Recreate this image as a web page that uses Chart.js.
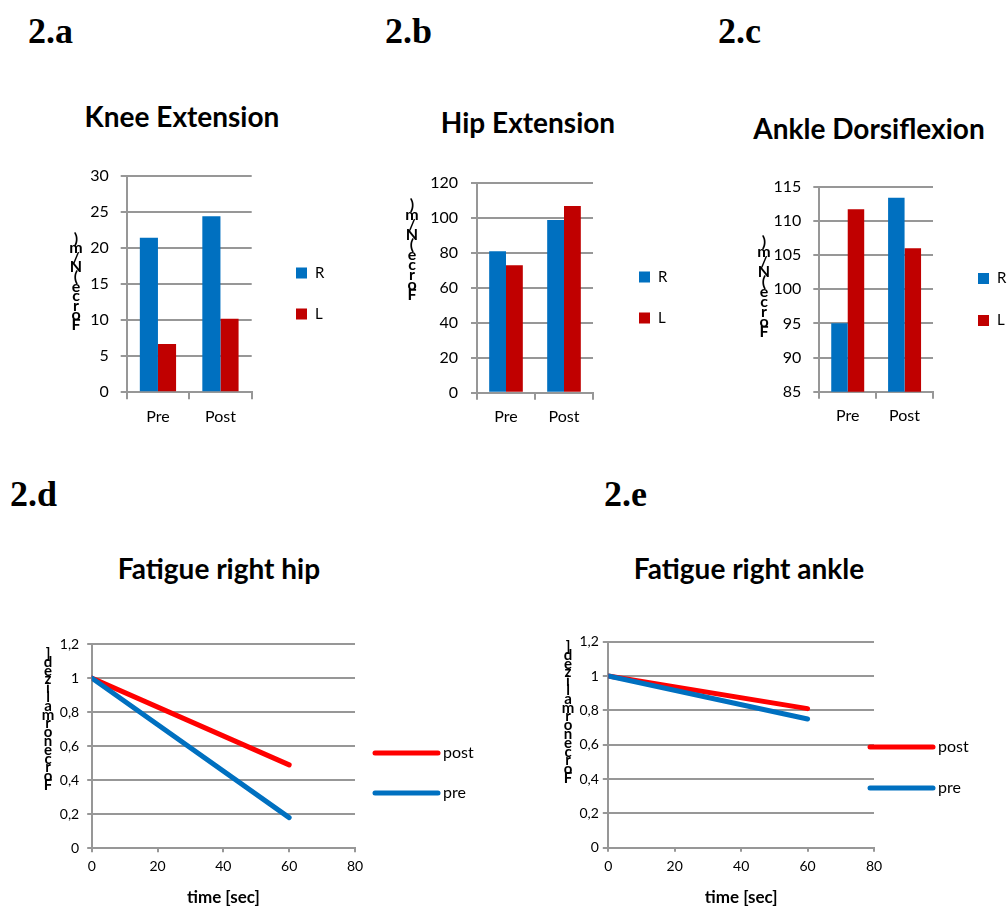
<!DOCTYPE html>
<html>
<head>
<meta charset="utf-8">
<script src="https://cdn.jsdelivr.net/npm/chart.js@4.4.1/dist/chart.umd.min.js"></script>
<style>
body { margin: 0; background: #fff; width: 1008px; height: 907px; position: relative; overflow: hidden; font-family: Lato, sans-serif; }
canvas { position: absolute; left: 0; top: 0; }
.lbl { position: absolute; font: bold 36px "Liberation Serif", serif; line-height: 36px; }
.ttl { position: absolute; width: 400px; text-align: center; font: bold 28px Lato, sans-serif; line-height: 1.2; }
</style>
</head>
<body>
<div class="lbl" style="left:28px;top:13px">2.a</div>
<div class="lbl" style="left:385px;top:13px">2.b</div>
<div class="lbl" style="left:718px;top:13px">2.c</div>
<div class="lbl" style="left:10px;top:476px">2.d</div>
<div class="lbl" style="left:604px;top:476px">2.e</div>

<div class="ttl" style="left:-18px;top:100px">Knee Extension</div>
<div class="ttl" style="left:328px;top:106px">Hip Extension</div>
<div class="ttl" style="left:669px;top:112px">Ankle Dorsiflexion</div>
<div class="ttl" style="left:19px;top:552px">Fatigue right hip</div>
<div class="ttl" style="left:549px;top:552px">Fatigue right ankle</div>

<canvas id="knee" width="1008" height="907"></canvas>
<canvas id="hip" width="1008" height="907"></canvas>
<canvas id="ankle" width="1008" height="907"></canvas>
<canvas id="fatHip" width="1008" height="907"></canvas>
<canvas id="fatAnkle" width="1008" height="907"></canvas>

<script>
const phases = ["Pre", "Post"];
const kneeR = [21.4, 24.4];
const kneeL = [6.7, 10.2];
const hipR = [81, 99];
const hipL = [73, 107];
const ankleR = [95, 113.4];
const ankleL = [111.7, 106];

const timeSec = [0, 60];
const hipPost = [1, 0.49];
const hipPre = [1, 0.18];
const anklePost = [1, 0.81];
const anklePre = [1, 0.75];

const GRID = '#979797';
const YW = 80; // room kept for the y tick labels
Chart.defaults.font.family = 'Lato';
Chart.defaults.color = '#000';

// legend drawn to the right of the plot
const sideLegend = {
    id: 'sideLegend',
    afterDraw(chart, args, o) {
        const ctx = chart.ctx;
        ctx.save();
        ctx.font = o.fontSize + 'px Lato';
        ctx.textBaseline = 'middle';
        chart.data.datasets.forEach((ds, i) => {
            const y = o.y + i * o.gap;
            if (o.line) {
                ctx.strokeStyle = ds.borderColor;
                ctx.lineWidth = 5;
                ctx.lineCap = 'round';
                ctx.beginPath();
                ctx.moveTo(o.x, y);
                ctx.lineTo(o.x + o.line, y);
                ctx.stroke();
                ctx.fillStyle = '#000';
                ctx.fillText(ds.label, o.x + o.line + 5, y);
            } else {
                ctx.fillStyle = ds.backgroundColor;
                ctx.fillRect(o.x, y - 5.5, 11, 11);
                ctx.fillStyle = '#000';
                ctx.fillText(ds.label, o.x + 19, y);
            }
        });
        ctx.restore();
    }
};

// y title with upright letters piled from bottom to top
const stackLabel = {
    id: 'stackLabel',
    afterDraw(chart, args, o) {
        const ctx = chart.ctx;
        ctx.save();
        ctx.font = 'bold ' + o.size + 'px Lato';
        ctx.fillStyle = '#000';
        ctx.textAlign = 'center';
        let y = o.bottom;
        for (const ch of o.text) {
            if (ch === ' ') continue;
            ctx.fillText(ch, o.x, y);
            y -= o.step;
        }
        ctx.restore();
    }
};

// box = [left, right, top, bottom] of the plot area on the page
function barChart(id, r, l, yMin, yMax, step, box, tick, leg, lab) {
    new Chart(document.getElementById(id), {
        type: 'bar',
        data: {
            labels: phases,
            datasets: [
                { label: 'R', data: r, backgroundColor: '#0070C0', categoryPercentage: 0.58, barPercentage: 1 },
                { label: 'L', data: l, backgroundColor: '#C00000', categoryPercentage: 0.58, barPercentage: 1 }
            ]
        },
        options: {
            responsive: false,
            animation: false,
            layout: { padding: { left: box[0] - YW, right: 1008 - box[1], top: box[2], bottom: 0 } },
            plugins: {
                legend: { display: false },
                tooltip: { enabled: false },
                sideLegend: leg,
                stackLabel: lab
            },
            scales: {
                x: {
                    grid: { drawOnChartArea: false, tickLength: 7, color: GRID, lineWidth: 2 },
                    border: { color: GRID, width: 2 },
                    ticks: { font: { size: 16 }, padding: 8 },
                    afterFit: s => { s.height = 907 - box[3]; }
                },
                y: {
                    min: yMin,
                    max: yMax,
                    ticks: { stepSize: step, font: { size: 16 }, padding: tick },
                    grid: { color: GRID, lineWidth: 2, tickLength: 6 },
                    border: { color: GRID, width: 2 },
                    afterFit: s => { s.width = YW; }
                }
            }
        },
        plugins: [sideLegend, stackLabel]
    });
}

function lineChart(id, post, pre, box, tl, tick, leg, lab) {
    new Chart(document.getElementById(id), {
        type: 'line',
        data: {
            datasets: [
                { label: 'post', data: timeSec.map((t, i) => ({ x: t, y: post[i] })), borderColor: '#FF0000', order: 1 },
                { label: 'pre', data: timeSec.map((t, i) => ({ x: t, y: pre[i] })), borderColor: '#0070C0', order: 0 }
            ]
        },
        options: {
            responsive: false,
            animation: false,
            layout: { padding: { left: box[0] - YW, right: 1008 - box[1], top: box[2], bottom: 0 } },
            elements: {
                line: { borderWidth: 5, borderCapStyle: 'round', tension: 0 },
                point: { radius: 0 }
            },
            plugins: {
                legend: { display: false },
                tooltip: { enabled: false },
                sideLegend: leg,
                stackLabel: lab
            },
            scales: {
                x: {
                    type: 'linear',
                    min: 0,
                    max: 80,
                    ticks: { stepSize: 20, font: { size: 14 }, padding: 6 },
                    grid: { drawOnChartArea: false, tickLength: 4, color: GRID, lineWidth: 2 },
                    border: { color: GRID, width: 2 },
                    title: { display: true, text: 'time [sec]', font: { size: 17, weight: 'bold', lineHeight: 1 }, padding: { top: 0, bottom: 0.5 } },
                    afterFit: s => { s.height = 907 - box[3]; }
                },
                y: {
                    min: 0,
                    max: 1.2,
                    ticks: {
                        stepSize: 0.2,
                        font: { size: 14 },
                        padding: tick,
                        callback: v => String(Number(v.toFixed(1))).replace('.', ',')
                    },
                    grid: { color: GRID, lineWidth: 2, tickLength: tl },
                    border: { color: GRID, width: 2 },
                    afterFit: s => { s.width = YW; }
                }
            }
        },
        plugins: [sideLegend, stackLabel]
    });
}

barChart('knee', kneeR, kneeL, 0, 30, 5, [126.7, 251.7, 175.7, 392.3], 12,
    { x: 296, y: 273, gap: 41, fontSize: 15 },
    { text: 'Force (N/m)', x: 76, bottom: 330, step: 9.6, size: 16 });

barChart('hip', hipR, hipL, 0, 120, 20, [477, 593, 183.3, 392.7], 13,
    { x: 639, y: 277, gap: 41, fontSize: 15 },
    { text: 'Force (N/m)', x: 412, bottom: 300, step: 10, size: 16 });

barChart('ankle', ankleR, ankleL, 85, 115, 5, [819.3, 933, 186.7, 391.7], 12,
    { x: 978, y: 278.5, gap: 42, fontSize: 15 },
    { text: 'Force (N/m)', x: 764, bottom: 337, step: 10, size: 16 });

lineChart('fatHip', hipPost, hipPre, [91.7, 355, 644, 848.3], 4.5, 8,
    { x: 375, y: 753, gap: 40, fontSize: 16, line: 63 },
    { text: 'Force normalized ]', x: 48, bottom: 790, step: 8.8, size: 15 });

lineChart('fatAnkle', anklePost, anklePre, [608.3, 874, 641.7, 847.7], 5.5, 4,
    { x: 870, y: 747, gap: 41, fontSize: 16, line: 63 },
    { text: 'Force normalized ]', x: 568, bottom: 783, step: 8.8, size: 15 });
</script>
</body>
</html>
